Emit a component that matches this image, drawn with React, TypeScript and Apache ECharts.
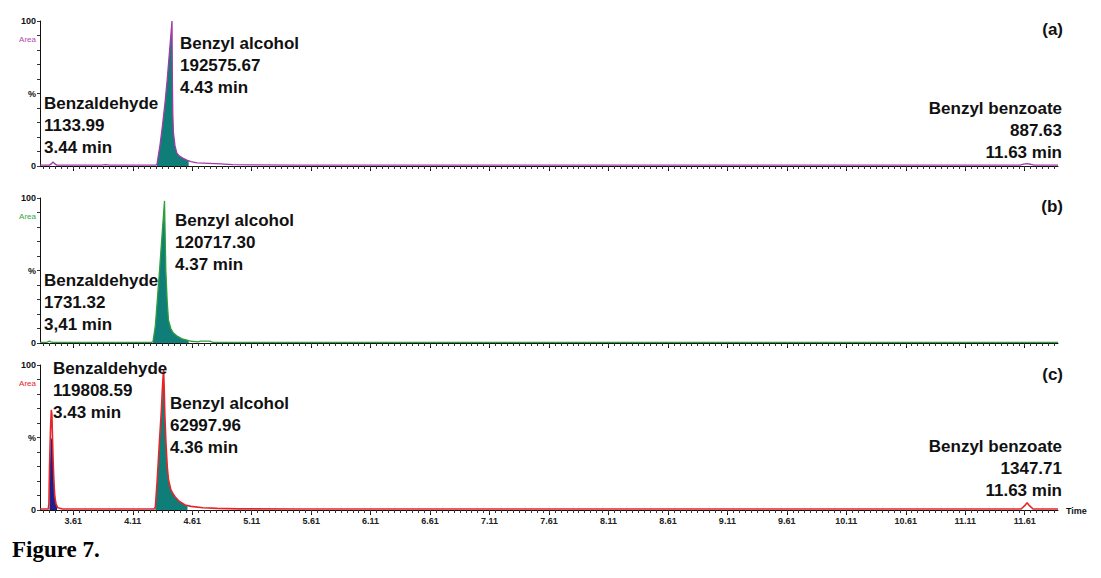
import { useEffect, useRef } from "react";
import * as echarts from "echarts";

// ---------- data ----------
const timeMin = 3.33;
const timeMax = 11.89;
const xTickLabels = [3.61, 4.11, 4.61, 5.11, 5.61, 6.11, 6.61, 7.11, 7.61, 8.11, 8.61, 9.11, 9.61, 10.11, 10.61, 11.11, 11.61];

// (a) trace (purple)
const traceA: [number, number][] = [
  [3.33, 0.6], [3.41, 0.6], [3.43, 1.8], [3.44, 2.8], [3.45, 1.8], [3.47, 0.6], [3.85, 0.6], [3.88, 1.0], [3.91, 0.6],
  [4.30, 0.6], [4.313, 1], [4.34, 15], [4.36, 28], [4.383, 45], [4.40, 60], [4.42, 80], [4.435, 95], [4.44, 100],
  [4.443, 60], [4.447, 35], [4.452, 23], [4.465, 14], [4.48, 9], [4.50, 7], [4.53, 5.5], [4.565, 4], [4.60, 3],
  [4.65, 2.2], [4.75, 1.8], [4.85, 1.4], [4.95, 1.0], [5.1, 0.8], [5.5, 0.6], [11.57, 0.6], [11.60, 1.3],
  [11.63, 1.6], [11.66, 1.2], [11.69, 0.6], [11.89, 0.6],
];
const fillAAlcohol: [number, number][] = [
  [4.313, 0], [4.313, 1], [4.34, 15], [4.36, 28], [4.383, 45], [4.40, 60], [4.42, 80], [4.435, 95], [4.44, 100],
  [4.443, 60], [4.447, 35], [4.452, 23], [4.465, 14], [4.48, 9], [4.50, 7], [4.53, 5.5], [4.565, 4], [4.58, 3.5], [4.58, 0],
];

// (b) trace (green)
const traceB: [number, number][] = [
  [3.33, 0.5], [3.39, 0.5], [3.40, 1.0], [3.41, 1.4], [3.42, 0.8], [3.44, 0.5], [4.27, 0.5], [4.28, 1], [4.30, 12],
  [4.315, 28], [4.335, 50], [4.355, 73], [4.37, 90], [4.377, 98], [4.381, 80], [4.388, 50], [4.40, 28], [4.41, 16],
  [4.43, 10], [4.45, 7], [4.48, 5], [4.52, 3], [4.565, 2], [4.60, 1.2], [4.66, 0.8], [4.68, 1.3], [4.76, 1.3],
  [4.78, 0.5], [11.89, 0.5],
];
const fillBAlcohol: [number, number][] = [
  [4.28, 0], [4.28, 1], [4.30, 12], [4.315, 28], [4.335, 50], [4.355, 73], [4.37, 90], [4.377, 98], [4.381, 80],
  [4.388, 50], [4.40, 28], [4.41, 16], [4.43, 10], [4.45, 7], [4.48, 5], [4.52, 3], [4.565, 2], [4.58, 1.6], [4.58, 0],
];

// (c) trace (red)
const traceC: [number, number][] = [
  [3.33, 0.7], [3.40, 0.7], [3.405, 5], [3.41, 30], [3.418, 55], [3.425, 69], [3.43, 66], [3.435, 50], [3.44, 35],
  [3.445, 24], [3.45, 15], [3.455, 9], [3.465, 4], [3.48, 1.5], [3.52, 0.7], [4.29, 0.7], [4.30, 2], [4.315, 20],
  [4.335, 48], [4.35, 68], [4.36, 85], [4.369, 97], [4.374, 85], [4.38, 65], [4.388, 48], [4.40, 30], [4.41, 21],
  [4.43, 14], [4.45, 11], [4.467, 9], [4.50, 6], [4.55, 3.5], [4.60, 2.5], [4.70, 1.6], [4.82, 1.1], [5.0, 0.8],
  [5.5, 0.7], [11.58, 0.7], [11.61, 3], [11.63, 5], [11.65, 3], [11.68, 0.7], [11.89, 0.7],
];
const fillCAldehyde: [number, number][] = [
  [3.41, 0], [3.41, 15], [3.415, 35], [3.42, 48], [3.43, 50], [3.435, 45], [3.44, 35], [3.445, 24], [3.45, 15],
  [3.455, 9], [3.465, 4], [3.473, 2], [3.473, 0],
];
const fillCAlcohol: [number, number][] = [
  [4.30, 0], [4.30, 2], [4.315, 20], [4.335, 46], [4.35, 66], [4.36, 80], [4.366, 86], [4.374, 84], [4.38, 65],
  [4.388, 48], [4.40, 30], [4.41, 21], [4.43, 14], [4.45, 11], [4.467, 9], [4.50, 6], [4.55, 3.5], [4.57, 3], [4.57, 0],
];

// annotations
const panelLetters = ["(a)", "(b)", "(c)"];
const annotationsA = [
  { lines: ["Benzaldehyde", "1133.99", "3.44 min"], x: 44, y: 103, align: "left" },
  { lines: ["Benzyl alcohol", "192575.67", "4.43 min"], x: 180, y: 43, align: "left" },
  { lines: ["Benzyl benzoate", "887.63", "11.63 min"], x: 1062, y: 108, align: "right" },
];
const annotationsB = [
  { lines: ["Benzaldehyde", "1731.32", "3,41 min"], x: 44, y: 280, align: "left" },
  { lines: ["Benzyl alcohol", "120717.30", "4.37 min"], x: 175, y: 220, align: "left" },
];
const annotationsC = [
  { lines: ["Benzaldehyde", "119808.59", "3.43 min"], x: 53, y: 368, align: "left" },
  { lines: ["Benzyl alcohol", "62997.96", "4.36 min"], x: 170, y: 403, align: "left" },
  { lines: ["Benzyl benzoate", "1347.71", "11.63 min"], x: 1062, y: 446, align: "right" },
];

// ---------- layout / style ----------
const panels = [
  { top: 21, height: 145, line: "#a33aa6", area: "#b04cb0", letterY: 29 },
  { top: 198, height: 145, line: "#2f9d3b", area: "#35a845", letterY: 206 },
  { top: 365, height: 145, line: "#e4262b", area: "#e4262b", letterY: 374 },
];
const TEAL = "#0f7e78";
const BLUE = "#1c1f88";
const LEFT = 40;
const RIGHT = 43;
const ANN_FONT = 'bold 17px "Liberation Sans", Arial, sans-serif';
const SMALL_FONT = 'bold 9px "Liberation Sans", Arial, sans-serif';

function minorTicks(): number[] {
  const out: number[] = [];
  for (let v = 3.36; v <= timeMax + 1e-9; v += 0.05) out.push(Math.round(v * 100) / 100);
  return out;
}

function textEl(text: string, x: number, y: number, align: string, font: string, fill = "#111") {
  return {
    type: "text",
    z: 100,
    style: {
      text, x, y, font, fill,
      align, verticalAlign: "middle",
      textAlign: align, textVerticalAlign: "middle",
    },
  };
}

export default function App() {
  const ref = useRef<HTMLDivElement>(null);

  useEffect(() => {
    if (!ref.current) return;
    const chart = echarts.init(ref.current, undefined, { renderer: "svg" });
    const minor = minorTicks();

    const grid = panels.map((p) => ({ left: LEFT, right: RIGHT, top: p.top, height: p.height, containLabel: false }));

    const xAxis: any[] = [];
    const yAxis: any[] = [];
    panels.forEach((p, i) => {
      xAxis.push({
        type: "value", gridIndex: i, min: timeMin, max: timeMax, position: "bottom",
        axisLine: { show: true, onZero: false, lineStyle: { color: "#111", width: 1 } },
        axisTick: { show: true, customValues: xTickLabels, length: 5, lineStyle: { color: "#111", width: 1 } },
        axisLabel: {
          show: i === 2, customValues: xTickLabels, formatter: (v: number) => v.toFixed(2),
          fontSize: 9, fontWeight: "bold", color: "#222", margin: 6, fontFamily: "Liberation Sans",
        },
        splitLine: { show: false },
      });
      xAxis.push({
        type: "value", gridIndex: i, min: timeMin, max: timeMax, position: "bottom",
        axisLine: { show: false, onZero: false },
        axisTick: { show: true, customValues: minor, length: 3, lineStyle: { color: "#333", width: 1 } },
        axisLabel: { show: false },
        splitLine: { show: false },
      });
      yAxis.push({
        type: "value", gridIndex: i, min: 0, max: 100, interval: 10,
        axisLine: { show: true, lineStyle: { color: "#111", width: 1 } },
        axisTick: { show: true, length: 3, lineStyle: { color: "#333", width: 1 } },
        axisLabel: {
          formatter: (v: number) => (v === 100 ? "100" : v === 0 ? "0" : v === 50 ? "%" : ""),
          fontSize: 9, fontWeight: "bold", color: "#111", margin: 4, fontFamily: "Liberation Sans",
        },
        splitLine: { show: false },
      });
    });

    const fillSeries = (data: [number, number][], panel: number, color: string) => ({
      type: "line", xAxisIndex: panel * 2, yAxisIndex: panel, data, showSymbol: false, symbol: "none",
      lineStyle: { width: 0 }, areaStyle: { color, opacity: 1 }, z: 2, silent: true,
    });
    const traceSeries = (data: [number, number][], panel: number, color: string, width: number) => ({
      type: "line", xAxisIndex: panel * 2, yAxisIndex: panel, data, showSymbol: false, symbol: "none",
      lineStyle: { color, width }, z: 3, silent: true,
    });

    const series = [
      fillSeries(fillAAlcohol, 0, TEAL),
      traceSeries(traceA, 0, panels[0].line, 1.3),
      fillSeries(fillBAlcohol, 1, TEAL),
      traceSeries(traceB, 1, panels[1].line, 1.3),
      fillSeries(fillCAldehyde, 2, BLUE),
      fillSeries(fillCAlcohol, 2, TEAL),
      traceSeries(traceC, 2, panels[2].line, 1.6),
    ];

    const graphics: any[] = [];
    [annotationsA, annotationsB, annotationsC].forEach((group) => {
      group.forEach((a) => {
        a.lines.forEach((ln, k) => graphics.push(textEl(ln, a.x, a.y + k * 22, a.align, ANN_FONT)));
      });
    });
    panels.forEach((p, i) => {
      graphics.push(textEl(panelLetters[i], 1063, p.letterY, "right", ANN_FONT));
      graphics.push(textEl("Area", 36, p.top + 18, "right", '8px "Liberation Sans", Arial, sans-serif', p.area));
    });
    graphics.push(textEl("Time", 1066, 511, "left", SMALL_FONT));
    graphics.push(textEl("Figure 7.", 12, 549, "left", 'bold 23px "Liberation Serif", "Times New Roman", serif', "#000"));

    chart.setOption({
      animation: false,
      backgroundColor: "#fff",
      grid,
      xAxis,
      yAxis,
      series,
      graphic: graphics,
    });

    return () => chart.dispose();
  }, []);

  return <div ref={ref} style={{ position: "fixed", left: 0, top: 0, width: 1101, height: 578 }} />;
}
